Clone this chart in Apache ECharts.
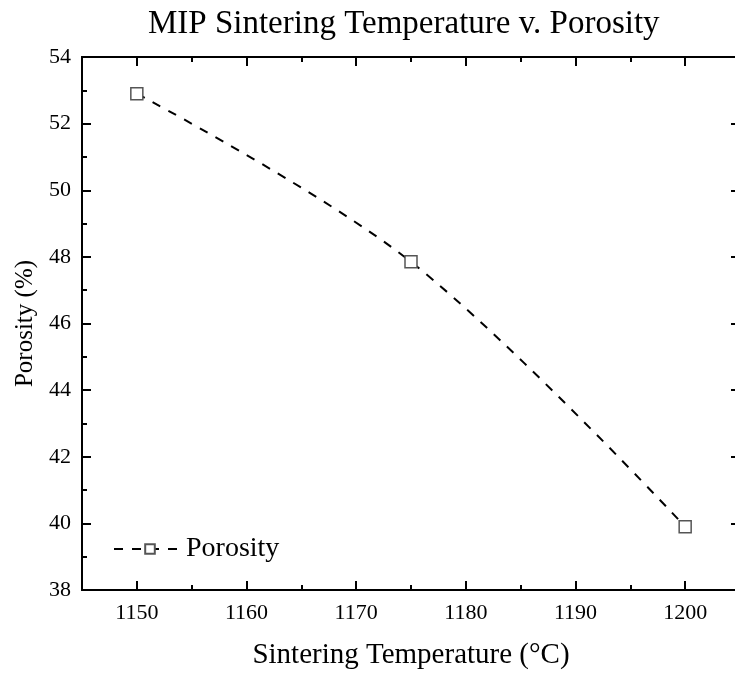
<!DOCTYPE html>
<html><head><meta charset="utf-8">
<script src="https://cdn.jsdelivr.net/npm/echarts@6/dist/echarts.min.js"></script>
<style>html,body{margin:0;padding:0;background:#fff}#c{width:735px;height:675px}</style>
</head><body><div id="c"></div>
<script>
const temperatures = [1150, 1175, 1200];
const porosity = [52.9, 47.85, 39.9];
const seriesName = 'Porosity';
const titleText = 'MIP Sintering Temperature v. Porosity';
const xName = 'Sintering Temperature (°C)';
const yName = 'Porosity (%)';
const xMajorTicks = [1150, 1160, 1170, 1180, 1190, 1200];

const FONT = 'Liberation Serif';
const chart = echarts.init(document.getElementById('c'));
const line = {show: true, onZero: false, lineStyle: {color: '#000', width: 2}};
function xAx(pos, major, labels) {
  const a = {type: 'value', min: 1145, max: 1205, interval: 5, position: pos,
    axisLine: line, splitLine: {show: false},
    axisTick: {show: true, inside: true, length: major ? 9 : 5, lineStyle: {color: '#000', width: 2}},
    axisLabel: {show: false}};
  if (major) a.axisTick.customValues = xMajorTicks;
  if (labels) {
    a.name = xName; a.nameLocation = 'middle'; a.nameGap = 51;
    a.nameTextStyle = {fontFamily: FONT, fontSize: 29, color: '#000'};
    a.axisLabel = {show: true, customValues: xMajorTicks, formatter: v => String(v),
      fontFamily: FONT, fontSize: 22, color: '#000', margin: 12};
  }
  return a;
}
function yAx(pos, labels) {
  const a = {type: 'value', min: 38, max: 54, interval: 2, position: pos,
    axisLine: line, splitLine: {show: false},
    axisTick: {show: true, inside: true, length: 9, lineStyle: {color: '#000', width: 2}},
    minorTick: {show: true, splitNumber: 2, length: 5, lineStyle: {color: '#000', width: 2}},
    axisLabel: {show: false}};
  if (labels) {
    a.name = yName; a.nameLocation = 'middle'; a.nameGap = 42;
    a.nameTextStyle = {fontFamily: FONT, fontSize: 25, color: '#000'};
    a.axisLabel = {show: true, fontFamily: FONT, fontSize: 22, color: '#000', margin: 11};
  }
  return a;
}
chart.setOption({
  animation: false,
  title: {text: titleText, left: 143, top: 3, textStyle: {fontFamily: FONT, fontSize: 33, fontWeight: 'normal', color: '#000'}},
  grid: {left: 82, width: 658, top: 57, bottom: 85, outerBoundsMode: 'none', containLabel: false},
  legend: {left: 108, top: 530, itemWidth: 72, itemHeight: 12, itemGap: 0,
    textStyle: {fontFamily: FONT, fontSize: 28, color: '#000', padding: [0, 0, 0, -5]}},
  xAxis: [xAx('bottom', false, false), xAx('bottom', true, true), xAx('top', false, false), xAx('top', true, false)],
  yAxis: [yAx('left', true), yAx('right', false)],
  series: [{
    name: seriesName, type: 'line', smooth: 0.35, xAxisIndex: 1, yAxisIndex: 0,
    data: temperatures.map((t, i) => [t, porosity[i]]),
    symbol: 'rect', symbolSize: 12,
    itemStyle: {color: '#fff', borderColor: '#555', borderWidth: 1.5},
    lineStyle: {color: '#000', width: 2, type: [9, 9]}
  }]
});
</script></body></html>
